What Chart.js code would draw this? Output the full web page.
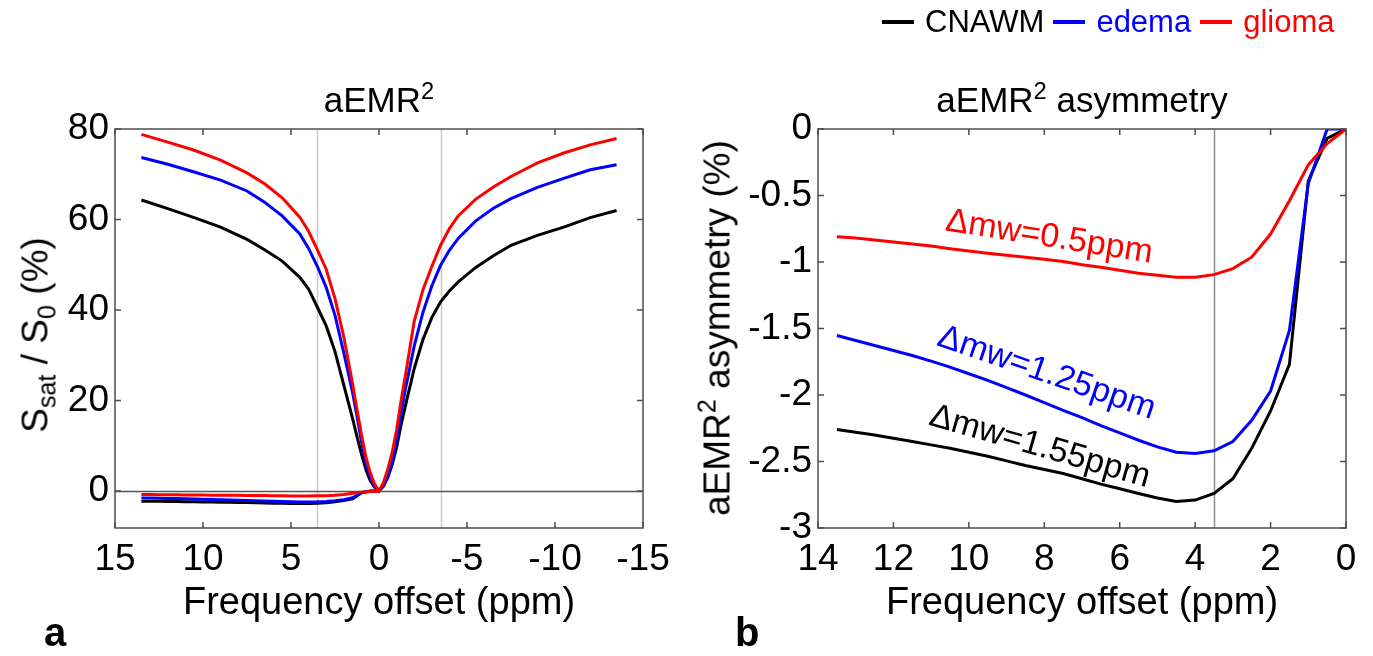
<!DOCTYPE html>
<html>
<head>
<meta charset="utf-8">
<title>aEMR2</title>
<script src="https://cdn.jsdelivr.net/npm/chart.js@4.4.1/dist/chart.umd.min.js"></script>
<style>
  html, body { margin: 0; padding: 0; background: #fff; }
  body { width: 1373px; height: 656px; position: relative; overflow: hidden;
         font-family: 'Liberation Sans', Arial, sans-serif; color: #000; }
  .panel { position: absolute; top: 0; height: 656px; }
  #panelA { left: 0; width: 686px; }
  #panelB { left: 686px; width: 687px; }
  .txt { position: absolute; white-space: nowrap; line-height: 1; }
  .ctr { transform: translate(-50%, -50%); }
  .rot { transform: translate(-50%, -50%) rotate(-90deg); }
  .ttl { font-size: 35px; }
  .ylab { font-size: 37px; }
  sub { font-size: 0.68em; vertical-align: baseline; position: relative; top: 0.3em; }
  sup { font-size: 0.68em; vertical-align: baseline; position: relative; top: -0.55em; }
  .tag { font-size: 40px; font-weight: bold; }
  #legend { position: absolute; left: 882px; top: 22px; transform: translateY(-50%);
            display: flex; align-items: center; font-size: 31px; white-space: nowrap; }
  #legend .sw { display: inline-block; width: 32px; height: 4px; margin: 0 11px 0 9px; }
  #legend .sw:first-child { margin-left: 0; }
</style>
</head>
<body>
<div class="panel" id="panelA"><canvas id="chartA" width="686" height="656"></canvas></div>
<div class="panel" id="panelB"><canvas id="chartB" width="687" height="656"></canvas></div>

<div id="legend"></div>

<div class="txt ctr ttl" style="left:379px; top:99px;">aEMR<sup>2</sup></div>
<div class="txt ctr ttl" style="left:1082px; top:99px;">aEMR<sup>2</sup> asymmetry</div>
<div class="txt rot ylab" style="left:35px; top:335px;">S<sub>sat</sub> / S<sub>0</sub> (%)</div>
<div class="txt rot ylab" style="left:717px; top:328px;">aEMR<sup>2</sup> asymmetry (%)</div>
<div class="txt tag" style="left:44px; top:612px;">a</div>
<div class="txt tag" style="left:735px; top:612px;">b</div>

<script>
// ---- data ----
const seriesNames  = ['CNAWM', 'edema', 'glioma'];
const seriesColors = ['#000000', '#0000ff', '#ff0000'];

// panel a: Z-spectra, Ssat/S0 (%)
const offsetsA = [13.5, 12, 10.5, 9, 7.5, 6.5, 5.5, 4.5, 4, 3.5, 3, 2.5, 2, 1.5, 1.25, 1, 0.75, 0.5, 0.25, 0,
                  -0.25, -0.5, -0.75, -1, -1.25, -1.5, -2, -2.5, -3, -3.5, -4, -4.5, -5.5, -6.5, -7.5, -9, -10.5, -12, -13.5];
const cnawmA  = [64.3, 62.4, 60.4, 58.3, 55.6, 53.3, 50.8, 47.2, 44.6, 40.6, 36.5, 30.8, 23.4, 16, 12, 8.2, 4.8, 2.3, 0.8, 0,
                 1, 3, 5.8, 9.6, 14.5, 18.8, 27, 33.5, 38.3, 41.8, 44.2, 46.2, 49.4, 52, 54.3, 56.5, 58.3, 60.4, 62];
const edemaA  = [73.7, 72.2, 70.5, 68.7, 66.3, 63.8, 60.8, 56.8, 53.6, 49.6, 45, 38.8, 30.5, 21.7, 16.5, 11, 6.2, 3, 1, 0,
                 1.3, 3.2, 6.6, 11, 17, 22.5, 32, 39.5, 45.3, 49.9, 53.2, 55.8, 59.7, 62.5, 64.6, 67.1, 69.1, 71, 72.1];
const gliomaA = [78.8, 77.1, 75.3, 73.1, 70.3, 67.9, 64.8, 60.5, 57.4, 53.3, 49, 42.5, 34, 23.6, 18, 12.5, 7.6, 4, 1.5, 0,
                 1.8, 4.8, 8.5, 13.5, 19.8, 25.5, 37.5, 44.5, 49.6, 54.3, 58, 60.8, 64.5, 67.2, 69.5, 72.5, 74.7, 76.5, 77.9];

// panel b: asymmetry (%), also drawn near zero in panel a
const offsetsB = [13.5, 13, 12.5, 12, 11.5, 11, 10.5, 10, 9.5, 9, 8.5, 8, 7.5, 7, 6.5, 6, 5.5, 5, 4.5, 4, 3.5, 3, 2.5, 2, 1.5, 1, 0.5, 0];
const cnawmB  = [-2.26, -2.28, -2.30, -2.325, -2.35, -2.375, -2.40, -2.43, -2.46, -2.495, -2.53, -2.56, -2.59, -2.63,
                 -2.67, -2.705, -2.74, -2.775, -2.80, -2.79, -2.74, -2.63, -2.40, -2.12, -1.77, -0.39, -0.07, 0];
const edemaB  = [-1.553, -1.59, -1.628, -1.665, -1.703, -1.745, -1.79, -1.84, -1.89, -1.945, -2.0, -2.058, -2.116, -2.17,
                 -2.23, -2.285, -2.34, -2.39, -2.43, -2.44, -2.42, -2.35, -2.19, -1.97, -1.515, -0.41, 0, 0];
const gliomaB = [-0.81, -0.82, -0.834, -0.85, -0.864, -0.88, -0.90, -0.917, -0.934, -0.95, -0.964, -0.98, -0.997, -1.02,
                 -1.04, -1.062, -1.084, -1.10, -1.114, -1.115, -1.095, -1.05, -0.964, -0.79, -0.54, -0.27, -0.11, 0];

const xTicksA = [15, 10, 5, 0, -5, -10, -15];
const yTicksA = [0, 20, 40, 60, 80];
const xTicksB = [14, 12, 10, 8, 6, 4, 2, 0];
const yTicksB = [-3, -2.5, -2, -1.5, -1, -0.5, 0];
const refLinesA = [3.5, -3.5];
const refLinesB = [3.5];
const mwLabels = ['\u0394mw=1.55ppm', '\u0394mw=1.25ppm', '\u0394mw=0.5ppm'];

// ---- helpers ----
const FONT = "'Liberation Sans', Arial, sans-serif";
const toPts = (xs, ys) => xs.map((x, i) => ({ x: x, y: ys[i] }));

function lineSet(label, xs, ys, idx) {
  return { label: label, data: toPts(xs, ys), borderColor: seriesColors[idx], borderWidth: 3,
           pointRadius: 0, tension: 0, fill: false, order: 3 - idx };
}

// legend (html)
const legendEl = document.getElementById('legend');
seriesNames.forEach((n, i) => {
  const sw = document.createElement('span');
  sw.className = 'sw';
  sw.style.background = seriesColors[i];
  const tx = document.createElement('span');
  tx.textContent = n;
  tx.style.color = seriesColors[i];
  legendEl.appendChild(sw);
  legendEl.appendChild(tx);
});

// matlab-ish box, inward ticks, reference lines
const framePlugin = {
  id: 'frame',
  beforeDatasetsDraw(chart, args, o) {
    const { ctx, chartArea: a, scales: { x, y } } = chart;
    ctx.save();
    ctx.lineWidth = 1.5;
    (o.vLines || []).forEach(v => {
      const px = Math.round(x.getPixelForValue(v)) + 0.5;
      ctx.strokeStyle = o.vColor;
      ctx.beginPath(); ctx.moveTo(px, a.top); ctx.lineTo(px, a.bottom); ctx.stroke();
    });
    (o.hLines || []).forEach(v => {
      const py = Math.round(y.getPixelForValue(v)) + 0.5;
      ctx.strokeStyle = o.hColor;
      ctx.beginPath(); ctx.moveTo(a.left, py); ctx.lineTo(a.right, py); ctx.stroke();
    });
    ctx.restore();
  },
  afterDatasetsDraw(chart, args, o) {
    const { ctx, chartArea: a, scales: { x, y } } = chart;
    const t = 6;
    ctx.save();
    ctx.strokeStyle = '#4d4d4d';
    ctx.lineWidth = 1.5;
    ctx.beginPath();
    x.ticks.forEach(tk => {
      const px = x.getPixelForValue(tk.value);
      ctx.moveTo(px, a.bottom); ctx.lineTo(px, a.bottom - t);
      ctx.moveTo(px, a.top); ctx.lineTo(px, a.top + t);
    });
    y.ticks.forEach(tk => {
      const py = y.getPixelForValue(tk.value);
      ctx.moveTo(a.left, py); ctx.lineTo(a.left + t, py);
      ctx.moveTo(a.right, py); ctx.lineTo(a.right - t, py);
    });
    ctx.stroke();
    ctx.strokeRect(a.left, a.top, a.right - a.left, a.bottom - a.top);
    // rotated text notes placed in data coordinates
    (o.notes || []).forEach(n => {
      ctx.save();
      ctx.translate(x.getPixelForValue(n.x), y.getPixelForValue(n.y));
      ctx.rotate(n.angle * Math.PI / 180);
      ctx.font = '34px ' + FONT;
      ctx.fillStyle = n.color;
      ctx.textAlign = 'center';
      ctx.textBaseline = 'middle';
      ctx.fillText(n.text, 0, 0);
      ctx.restore();
    });
    ctx.restore();
  }
};

function axes(xr, yr, xt, yt, yWidth) {
  const tickFont = { family: FONT, size: 37 };
  return {
    x: {
      type: 'linear', reverse: true, min: xr[0], max: xr[1],
      afterBuildTicks: s => { s.ticks = xt.map(v => ({ value: v })); },
      afterFit: s => { s.height = 128; },
      grid: { display: false, drawTicks: false, tickLength: 0 },
      border: { display: false },
      ticks: { font: tickFont, color: '#000', padding: 10, maxRotation: 0, autoSkip: false, callback: v => String(v) },
      title: { display: true, text: 'Frequency offset (ppm)', color: '#000',
               font: { family: FONT, size: 38 }, padding: { top: 0, bottom: 30 } }
    },
    y: {
      type: 'linear', min: yr[0], max: yr[1],
      afterBuildTicks: s => { s.ticks = yt.map(v => ({ value: v })); },
      afterFit: s => { s.width = yWidth; },
      grid: { display: false, drawTicks: false, tickLength: 0 },
      border: { display: false },
      ticks: { font: tickFont, color: '#000', padding: 6, autoSkip: false, callback: v => String(v) }
    }
  };
}

const baseOpts = (padRight) => ({
  responsive: false,
  animation: false,
  events: [],
  layout: { padding: { top: 129, right: padRight, bottom: 0, left: 0 } },
  plugins: { legend: { display: false }, tooltip: { enabled: false } }
});

// ---- panel a ----
const optsA = baseOpts(43);
optsA.scales = axes([-15, 15], [-8.2, 80], xTicksA, yTicksA, 115);
optsA.plugins.frame = { vLines: refLinesA, vColor: '#cccccc', hLines: [0], hColor: '#555555' };

new Chart(document.getElementById('chartA'), {
  type: 'line',
  data: {
    datasets: [
      lineSet(seriesNames[0], offsetsA, cnawmA, 0),
      lineSet(seriesNames[1], offsetsA, edemaA, 1),
      lineSet(seriesNames[2], offsetsA, gliomaA, 2),
      lineSet(seriesNames[0] + ' asym', offsetsB, cnawmB, 0),
      lineSet(seriesNames[1] + ' asym', offsetsB, edemaB, 1),
      lineSet(seriesNames[2] + ' asym', offsetsB, gliomaB, 2)
    ]
  },
  options: optsA,
  plugins: [framePlugin]
});

// ---- panel b ----
const optsB = baseOpts(27);
optsB.scales = axes([0, 14], [-3, 0], xTicksB, yTicksB, 132);
optsB.plugins.frame = {
  vLines: refLinesB, vColor: '#8c8c8c',
  notes: [
    { text: mwLabels[2], x: 7.87, y: -0.814, angle: 9,  color: seriesColors[2] },
    { text: mwLabels[1], x: 7.94, y: -1.836, angle: 19, color: seriesColors[1] },
    { text: mwLabels[0], x: 8.12, y: -2.39,  angle: 16, color: seriesColors[0] }
  ]
};

new Chart(document.getElementById('chartB'), {
  type: 'line',
  data: {
    datasets: [
      lineSet(seriesNames[0], offsetsB, cnawmB, 0),
      lineSet(seriesNames[1], offsetsB, edemaB, 1),
      lineSet(seriesNames[2], offsetsB, gliomaB, 2)
    ]
  },
  options: optsB,
  plugins: [framePlugin]
});
</script>
</body>
</html>
